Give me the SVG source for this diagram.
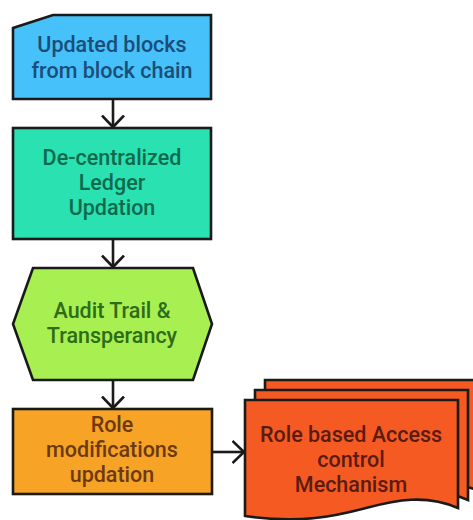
<svg xmlns="http://www.w3.org/2000/svg" width="473" height="520" viewBox="0 0 473 520">
<defs>
<style>
.s{stroke:#1a1a1a;stroke-width:2.6;stroke-linejoin:miter}
.t{font-family:Roboto,"Liberation Sans",sans-serif;font-size:21.5px;font-weight:500;text-anchor:middle}
.c{fill:none;stroke:#1a1a1a;stroke-width:2.6}
</style>
<marker id="ah" viewBox="0 0 14 24" refX="12.5" refY="12" markerWidth="14" markerHeight="24" markerUnits="userSpaceOnUse" orient="auto">
<path d="M1,1 L12.5,12 L1,23" fill="none" stroke="#1a1a1a" stroke-width="2.6"/>
</marker>
</defs>
<rect width="473" height="520" fill="#ffffff"/>
<g id="connectors">
<path class="c" d="M113,99 V127" marker-end="url(#ah)"/>
<path class="c" d="M113,239 V267" marker-end="url(#ah)"/>
<path class="c" d="M113,380 V408" marker-end="url(#ah)"/>
<path class="c" d="M212,452 H244" marker-end="url(#ah)"/>
</g>
<g id="n1">
<path class="s" fill="#47c1f9" d="M53,15 H211 V99 H13 V28 Z"/>
<text class="t" fill="#1b4d7a" x="112" y="52">Updated blocks</text>
<text class="t" fill="#1b4d7a" x="112" y="78">from block chain</text>
</g>
<g id="n2">
<rect class="s" fill="#2ae1b1" x="13" y="128" width="198" height="111"/>
<text class="t" fill="#0f6a4d" x="112" y="165">De-centralized</text>
<text class="t" fill="#0f6a4d" x="112" y="190">Ledger</text>
<text class="t" fill="#0f6a4d" x="112" y="215">Updation</text>
</g>
<g id="n3">
<path class="s" fill="#a8ef52" d="M33,268 H193 L212,324 L193,380 H33 L13,324 Z"/>
<text class="t" fill="#2e6c18" x="112" y="318">Audit Trail &amp;</text>
<text class="t" fill="#2e6c18" x="112" y="343">Transperancy</text>
</g>
<g id="n4">
<rect class="s" fill="#f7a426" x="13" y="409" width="199" height="85"/>
<text class="t" fill="#6b3912" x="112" y="432">Role</text>
<text class="t" fill="#6b3912" x="112" y="457">modifications</text>
<text class="t" fill="#6b3912" x="112" y="482">updation</text>
</g>
<g id="n5">
<path class="s" fill="#f55a22" d="M265,380 H482 V492 C450,478 420,484 390,492 C360,500 330,506 265,500 Z"/>
<path class="s" fill="#f55a22" d="M255,390 H468 V500 C436,486 406,492 376,500 C346,508 316,514 255,508 Z"/>
<path class="s" fill="#f55a22" d="M245,400 H458 V508 C426,494 396,500 366,508 C336,516 300,524 245,516 Z"/>
<text class="t" fill="#5a1c12" x="351" y="442">Role based Access</text>
<text class="t" fill="#5a1c12" x="351" y="467">control</text>
<text class="t" fill="#5a1c12" x="351" y="492">Mechanism</text>
</g>
</svg>
